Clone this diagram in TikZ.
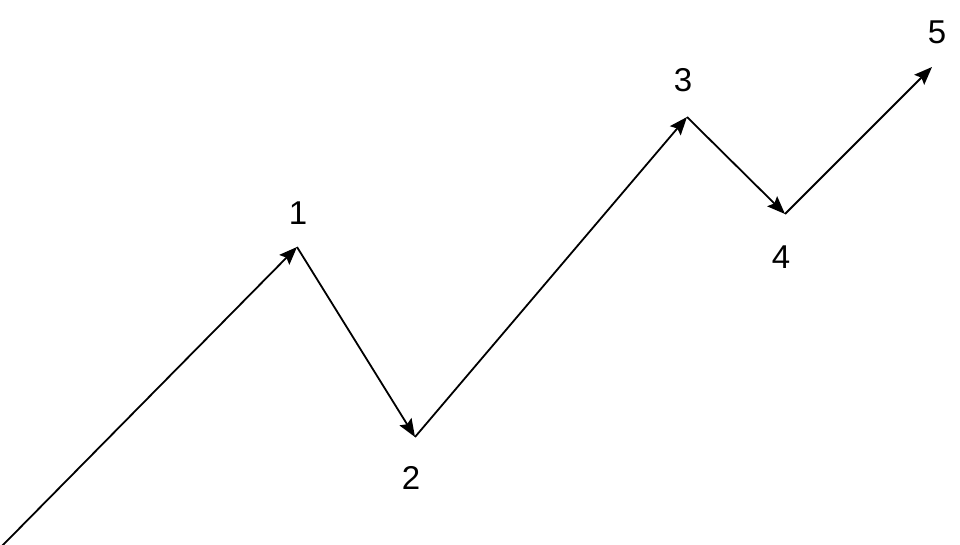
\documentclass[tikz,border=0pt]{standalone}
\usepackage{fontspec}
\setmainfont{Liberation Sans}
\usetikzlibrary{arrows.meta}
\begin{document}
\begin{tikzpicture}[x=1pt,y=-1pt,
  wave/.style={line width=1.8pt,-{Stealth[length=18pt,width=14pt,inset=3pt]}},
  lbl/.style={font=\fontsize{33}{33}\selectfont,inner sep=0pt}]
\useasboundingbox (0,0) rectangle (960,545);
\coordinate (p0) at (2,546);
\coordinate (p1) at (297,247);
\coordinate (p2) at (415,437);
\coordinate (p3) at (687,117);
\coordinate (p4) at (785,214);
\coordinate (p5) at (932,67);
\node[lbl] (l1) at (298,213) {1};
\node[lbl] (l2) at (411,478) {2};
\node[lbl] (l3) at (683,80) {3};
\node[lbl] (l4) at (781,257) {4};
\node[lbl] (l5) at (937,32) {5};
\draw[wave] (p0) -- (p1);
\draw[wave] (p1) -- (p2);
\draw[wave] (p2) -- (p3);
\draw[wave] (p3) -- (p4);
\draw[wave] (p4) -- (p5);
\end{tikzpicture}
\end{document}
